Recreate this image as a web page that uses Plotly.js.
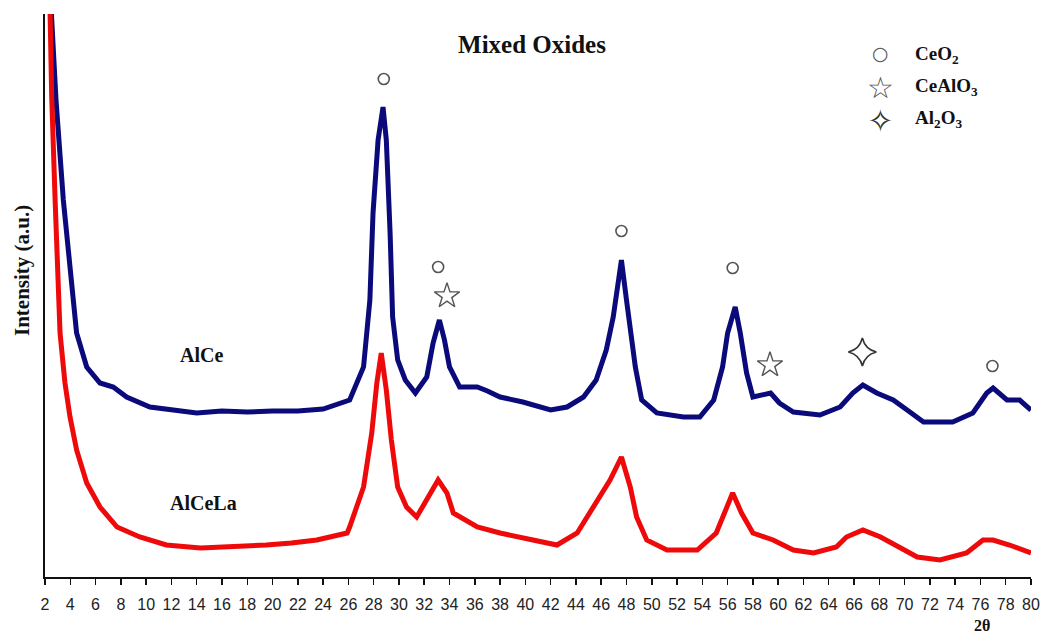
<!DOCTYPE html>
<html><head><meta charset="utf-8">
<script src="https://cdn.plot.ly/plotly-3.0.1.min.js"></script>
<style>html,body{margin:0;padding:0;background:#fff}#chart{width:1041px;height:635px}</style>
</head><body><div id="chart"></div>
<script>
// AlCe pattern (blue), 2-theta vs intensity (a.u.)
const alceX = [2.5,2.66,2.87,3.45,4.1,4.5,5.3,6.35,7.4,8.46,10.3,12,14,16,18,20,22,24,26.1,27.2,27.7,27.95,28.35,28.74,29.0,29.3,29.5,29.9,30.5,31.3,32.2,32.7,33.2,33.6,34.0,34.8,36.2,37.0,38.0,39.8,42.0,43.3,44.6,45.6,46.4,46.95,47.2,47.6,48.0,48.3,48.7,49.2,50.4,52.5,53.8,54.9,55.6,56.0,56.6,57.0,57.5,58.0,59.4,60.1,61.2,63.3,64.9,65.9,66.7,67.8,69.1,70.2,71.5,73.8,75.4,76.5,77.0,78.1,79.1,80];
const alceY = [565,520,477,377,287,244,210,194,190,180,170,167,164,166,165,166,166,168,177,210,277,364,437,470,437,344,260,217,197,184,200,234,257,237,210,190,190,186,180,175,167,170,180,197,227,260,284,317,277,244,210,177,164,160,160,177,210,244,270,244,204,180,184,174,165,162,170,184,192,184,177,167,155,155,164,184,189,177,177,167];
// AlCeLa pattern (red)
const alcelaX = [2.4,2.53,2.8,3.05,3.19,3.58,3.98,4.5,5.3,6.35,7.7,9.5,11.6,14.3,17,19.5,21.5,23.5,25.9,26.1,27.2,27.85,28.25,28.6,29.0,29.4,29.9,30.6,31.4,32.2,33.1,33.8,34.3,36.2,38.0,40.6,42.5,44.1,45.4,46.7,47.6,48.3,48.8,49.6,51.2,53.6,55.1,55.9,56.4,57.1,58.0,59.6,61.2,62.8,64.6,65.4,66.7,68.1,69.6,71.0,72.8,74.9,76.2,77.0,78.3,80];
const alcelaY = [565,480,377,287,244,194,160,127,94,70,50,40,32,29,30,32,34,37,44,50,90,144,194,224,187,137,90,70,60,77,97,84,64,50,44,37,32,44,70,97,120,90,60,37,27,27,44,67,84,64,44,37,27,24,30,40,47,40,30,20,17,24,37,37,32,24];
// phase markers
const ceo2X = [28.8,33.1,47.6,56.4,76.95];
const ceo2Y = [498,310,346,309,211];
const cealo3X = [33.8,59.35];
const cealo3Y = [281,212];
const al2o3X = [66.66];
const al2o3Y = [225];
const xTicks = [];
for (let t = 2; t <= 80; t += 2) xTicks.push(t);

const serif = 'Liberation Serif, Times New Roman, serif';
const mk = '#555555';
const traces = [
  {x: alceX, y: alceY, type: 'scatter', mode: 'lines', name: 'AlCe', line: {color: '#0a0a7a', width: 5}},
  {x: alcelaX, y: alcelaY, type: 'scatter', mode: 'lines', name: 'AlCeLa', line: {color: '#ee0a0a', width: 5}},
  {x: ceo2X, y: ceo2Y, type: 'scatter', mode: 'markers', name: 'CeO2', marker: {symbol: 'circle-open', size: 11, color: mk, line: {width: 1.6, color: mk}}},
  {x: cealo3X, y: cealo3Y, type: 'scatter', mode: 'markers', name: 'CeAlO3', marker: {symbol: 'star-open', size: 19, color: mk, line: {width: 1.4, color: mk}}},
  {x: al2o3X, y: al2o3Y, type: 'scatter', mode: 'markers', name: 'Al2O3', marker: {symbol: 'star-diamond-open', size: 20, color: '#333', line: {width: 1.6, color: '#333'}}}
];

function note(o) { return Object.assign({showarrow: false, xanchor: 'center', yanchor: 'middle'}, o); }
const ann = [
  note({text: 'AlCe', x: 14.4, y: 222, xref: 'x', yref: 'y', font: {family: serif, size: 20, color: '#111', weight: 'bold'}}),
  note({text: 'AlCeLa', x: 14.5, y: 74, xref: 'x', yref: 'y', font: {family: serif, size: 20, color: '#111', weight: 'bold'}}),
  note({text: 'Intensity (a.u.)', x: -0.0233, y: 0.5435, xref: 'paper', yref: 'paper', textangle: -90, font: {family: serif, size: 21, color: '#111', weight: 'bold'}}),
  note({text: '2θ', x: 0.95, y: -0.087, xref: 'paper', yref: 'paper', font: {family: serif, size: 16, color: '#111', weight: 'bold'}}),
  note({text: '○', x: 0.8469, y: 0.9307, xref: 'paper', yref: 'paper', font: {family: 'DejaVu Sans', size: 19, color: mk}}),
  note({text: '☆', x: 0.8469, y: 0.8686, xref: 'paper', yref: 'paper', font: {family: 'DejaVu Sans', size: 30, color: mk}}),
  note({text: '✧', x: 0.8469, y: 0.8099, xref: 'paper', yref: 'paper', font: {family: 'DejaVu Sans', size: 32, color: '#333'}}),
  note({text: 'CeO<sub>2</sub>', x: 0.8803, y: 0.9272, xref: 'paper', yref: 'paper', xanchor: 'left', font: {family: serif, size: 19, color: '#111', weight: 'bold'}}),
  note({text: 'CeAlO<sub>3</sub>', x: 0.8803, y: 0.8703, xref: 'paper', yref: 'paper', xanchor: 'left', font: {family: serif, size: 19, color: '#111', weight: 'bold'}}),
  note({text: 'Al<sub>2</sub>O<sub>3</sub>', x: 0.8803, y: 0.8135, xref: 'paper', yref: 'paper', xanchor: 'left', font: {family: serif, size: 19, color: '#111', weight: 'bold'}})
];

const layout = {
  width: 1041, height: 635,
  margin: {l: 45, r: 10, t: 14, b: 58},
  paper_bgcolor: '#fff', plot_bgcolor: '#fff',
  showlegend: false,
  title: {text: 'Mixed Oxides', x: 532/1041, xref: 'container', xanchor: 'center', y: 1 - 44/635, yref: 'container', yanchor: 'middle', font: {family: serif, size: 25, color: '#111', weight: 'bold'}},
  xaxis: {range: [2, 80], tickvals: xTicks, ticktext: xTicks.map(String), ticks: 'outside', ticklen: 6, tickwidth: 1.5, tickcolor: '#111',
          showline: true, linecolor: '#111', linewidth: 2, showgrid: false, zeroline: false,
          tickfont: {family: 'Liberation Sans, Arial, sans-serif', size: 16, color: '#222'}, ticklabelstandoff: 6},
  yaxis: {range: [0, 563], showline: true, linecolor: '#111', linewidth: 2, showgrid: false, zeroline: false, showticklabels: false, ticks: ''},
  annotations: ann
};
Plotly.newPlot('chart', traces, layout, {displayModeBar: false, staticPlot: true});
</script>
</body></html>
